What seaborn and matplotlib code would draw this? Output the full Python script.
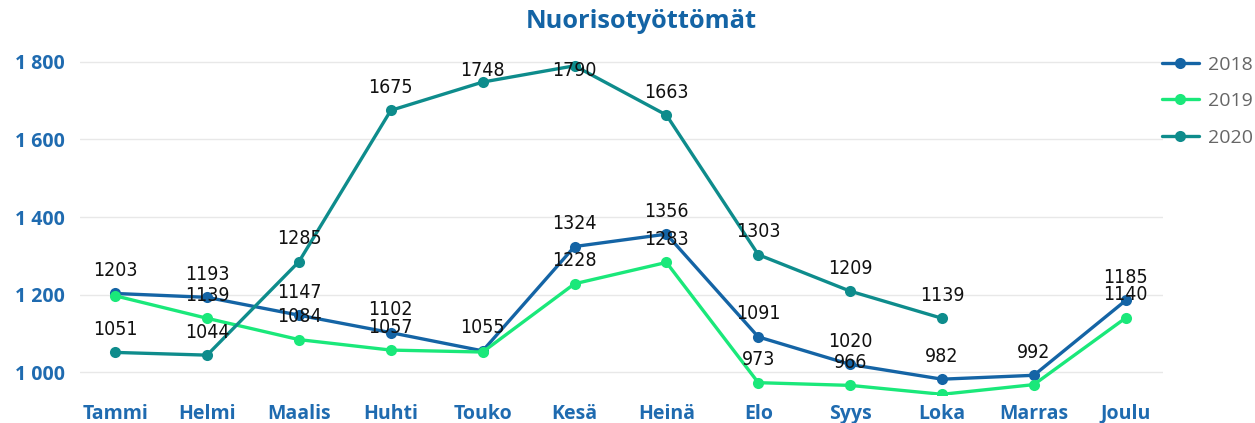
import numpy as np
import pandas as pd
import matplotlib
matplotlib.use("Agg")
import matplotlib.pyplot as plt
import seaborn as sns
from matplotlib.lines import Line2D

months = ["Tammi", "Helmi", "Maalis", "Huhti", "Touko", "Kesä",
          "Heinä", "Elo", "Syys", "Loka", "Marras", "Joulu"]
v2018 = [1203, 1193, 1147, 1102, 1055, 1324, 1356, 1091, 1020, 982, 992, 1185]
v2019 = [1197, 1139, 1084, 1057, 1052, 1228, 1283, 973, 966, 943, 968, 1140]
v2020 = [1051, 1044, 1285, 1675, 1748, 1790, 1663, 1303, 1209, 1139, None, None]
years = ["2018", "2019", "2020"]
colors = ["#1464A5", "#1AE87A", "#0E8C8C"]
# labels hidden by overlap in the original
hidden = {("2019", "Tammi"), ("2019", "Touko"), ("2019", "Loka"), ("2019", "Marras")}

rows = []
for yr, vals in zip(years, [v2018, v2019, v2020]):
    for m, v in zip(months, vals):
        if v is not None:
            rows.append({"Kuukausi": m, "Määrä": v, "Vuosi": yr})
df = pd.DataFrame(rows)

sns.set_style("white")
plt.rcParams['font.family'] = ['DejaVu Sans']

W, H = 1255, 423
fig = plt.figure(figsize=(W / 100, H / 100), dpi=100)
ax = fig.add_axes([0.064, 0.066, 0.863, 0.828])

sns.lineplot(data=df, x="Kuukausi", y="Määrä", hue="Vuosi", palette=colors,
             marker="o", markersize=8, markeredgewidth=0, linewidth=2.4,
             sort=False, ax=ax, legend=False)

ax.set_xlim(-0.38, 11.41)
ax.set_ylim(941, 1844)
ax.set_yticks([1000, 1200, 1400, 1600, 1800])
ax.set_yticklabels(["1 000", "1 200", "1 400", "1 600", "1 800"])
ax.grid(axis="y", color="#E8E8E8", linewidth=1)
ax.set_axisbelow(True)
for s in ax.spines.values():
    s.set_visible(False)
ax.set_xlabel("")
ax.set_ylabel("")
ax.tick_params(axis="both", length=0)
ax.tick_params(axis="y", pad=11)
ax.tick_params(axis="x", pad=17)
tick_blue = "#1F6BB0"
for lab in ax.get_yticklabels():
    lab.set_fontfamily("Open Sans")
    lab.set_fontweight("bold")
    lab.set_fontsize(14)
    lab.set_color(tick_blue)
for lab in ax.get_xticklabels():
    lab.set_fontfamily("Open Sans")
    lab.set_fontweight("bold")
    lab.set_fontsize(14)
    lab.set_color(tick_blue)
    lab.set_verticalalignment("baseline")

cap_py = H - 68  # label centres kept inside the plotting area (pixels from bottom)
for yr, vals in zip(years, [v2018, v2019, v2020]):
    for i, (m, v) in enumerate(zip(months, vals)):
        if v is None or (yr, m) in hidden:
            continue
        py = ax.transData.transform((i, v))[1]
        off_px = min(25, cap_py - py)
        ax.annotate(str(v), (i, v), xytext=(0, off_px * 0.72), textcoords="offset points",
                    ha="center", va="center_baseline", fontsize=14, color="#111111",
                    fontfamily="DejaVu Sans", fontstretch="condensed")

fig.text(0.511, 0.948, "Nuorisotyöttömät", ha="center", va="center",
         fontsize=18.3, fontweight="bold", color="#1464A5", fontfamily="Open Sans")

handles = [Line2D([0], [0], color=c, linewidth=2.4, marker="o", markersize=8,
                  markeredgewidth=0) for c in colors]
leg = fig.legend(handles, years, loc="upper left", bbox_to_anchor=(0.9117, 0.91),
                 frameon=False, fontsize=14, handlelength=1.9, labelspacing=0.95,
                 handletextpad=0.5)
for t in leg.get_texts():
    t.set_color("#666666")
    t.set_fontfamily("Open Sans")

fig.savefig("out.png", dpi=100)
